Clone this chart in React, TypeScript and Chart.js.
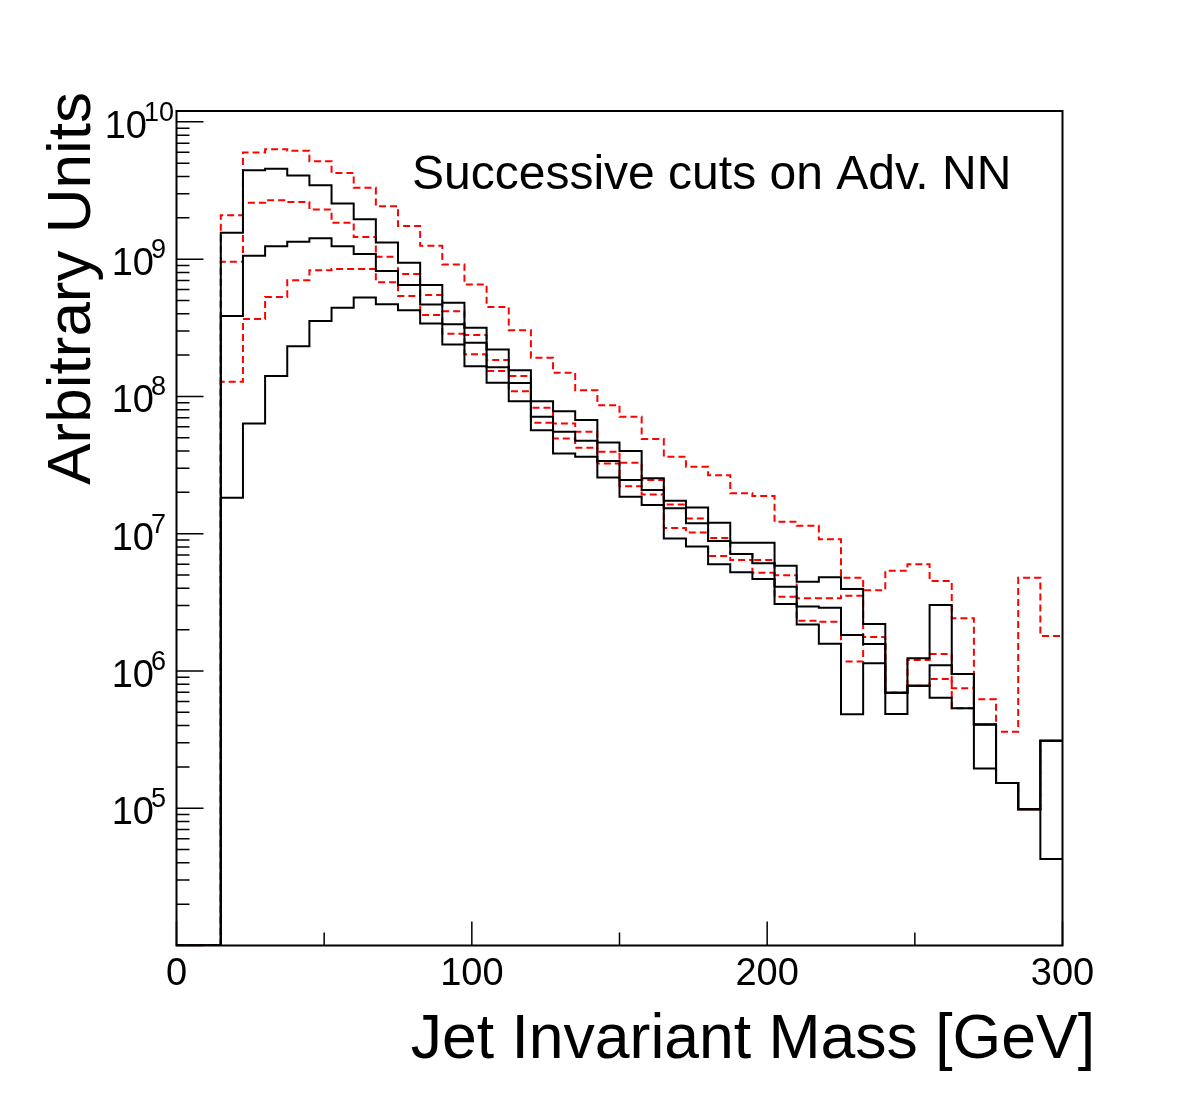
import { useEffect, useRef } from 'react';
import { Chart, registerables } from 'chart.js';

Chart.register(...registerables);

// Jet invariant mass binning [GeV], 40 bins of 7.5 GeV
const binEdges = [
  0, 7.5, 15, 22.5, 30, 37.5, 45, 52.5, 60, 67.5, 75, 82.5, 90, 97.5, 105, 112.5,
  120, 127.5, 135, 142.5, 150, 157.5, 165, 172.5, 180, 187.5, 195, 202.5, 210,
  217.5, 225, 232.5, 240, 247.5, 255, 262.5, 270, 277.5, 285, 292.5, 300,
];

// Solid histograms, loosest to tightest cut
const solidCut1 = [
  0, 0, 1.56e9, 4.45e9, 4.55e9, 4.07e9, 3.46e9, 2.54e9, 1.95e9, 1.32e9, 9.43e8,
  6.47e8, 4.81e8, 3.16e8, 2.2e8, 1.55e8, 9.24e7, 7.81e7, 6.72e7, 4.62e7, 4.0e7,
  2.53e7, 1.74e7, 1.55e7, 1.2e7, 8.58e6, 8.58e6, 5.84e6, 4.46e6, 4.81e6, 3.95e6,
  2.2e6, 6.94e5, 1.24e6, 3.02e6, 9.49e5, 4.08e5, 1.53e5, 9.82e4, 3.1e5,
];
const solidCut2 = [
  0, 0, 3.86e8, 1.06e9, 1.24e9, 1.34e9, 1.42e9, 1.24e9, 1.09e9, 8.18e8, 6.47e8,
  4.68e8, 3.35e8, 2.46e8, 1.63e8, 1.25e8, 7.1e7, 5.52e7, 4.75e7, 3.38e7, 2.46e7,
  2.08e7, 1.53e7, 1.19e7, 8.83e6, 7.1e6, 6.08e6, 4.11e6, 2.95e6, 2.89e6, 1.83e6,
  1.57e6, 6.94e5, 7.8e5, 1.1e6, 9.49e5, 4.08e5, 1.53e5, 9.82e4, 3.1e5,
];
const solidCut3 = [
  0, 0, 1.83e7, 6.36e7, 1.41e8, 2.32e8, 3.54e8, 4.42e8, 5.26e8, 4.7e8, 4.25e8,
  3.4e8, 2.39e8, 1.66e8, 1.26e8, 9.24e7, 5.68e7, 3.84e7, 3.63e7, 2.57e7, 1.86e7,
  1.62e7, 9.24e6, 8.08e6, 5.98e6, 5.23e6, 4.67e6, 3.07e6, 2.18e6, 1.58e6, 4.83e5,
  1.14e6, 4.85e5, 7.8e5, 6.38e5, 5.34e5, 1.95e5, 1.53e5, 9.82e4, 4.27e4,
];

// Dashed histograms, loosest to tightest cut
const dashedCut1 = [
  0, 0, 2.09e9, 5.98e9, 6.33e9, 6.15e9, 5.17e9, 4.25e9, 3.31e9, 2.43e9, 1.74e9,
  1.25e9, 9.15e8, 6.54e8, 4.49e8, 3.04e8, 1.91e8, 1.49e8, 1.11e8, 8.64e7, 7.1e7,
  4.89e7, 3.63e7, 3.07e7, 2.67e7, 1.97e7, 1.88e7, 1.22e7, 1.14e7, 9.09e6, 4.77e6,
  3.88e6, 5.37e6, 5.98e6, 4.52e6, 2.42e6, 6.21e5, 3.61e5, 4.77e6, 1.8e6,
];
const dashedCut2 = [
  0, 0, 9.56e8, 2.57e9, 2.69e9, 2.61e9, 2.3e9, 1.84e9, 1.45e9, 1.04e9, 7.78e8,
  5.47e8, 4.18e8, 2.8e8, 1.84e8, 1.41e8, 8.26e7, 6.36e7, 5.52e7, 3.95e7, 3.28e7,
  2.46e7, 1.63e7, 1.29e7, 9.29e6, 7.1e6, 6.42e6, 4.99e6, 3.38e6, 3.38e6, 3.53e6,
  1.77e6, 6.94e5, 1.2e6, 1.33e6, 7.47e5, 4.08e5, 1.53e5, 9.82e4, 3.1e5,
];
const dashedCut3 = [
  0, 0, 1.28e8, 3.66e8, 5.31e8, 7.03e8, 8.31e8, 8.46e8, 8.46e8, 6.8e8, 5.4e8,
  3.91e8, 2.86e8, 2.03e8, 1.53e8, 1.09e8, 6.42e7, 4.94e7, 4.22e7, 3.25e7, 2.22e7,
  1.93e7, 1.1e7, 1.02e7, 6.87e6, 6.42e6, 5.19e6, 3.47e6, 2.32e6, 2.28e6, 1.17e6,
  1.57e6, 6.94e5, 7.8e5, 8.73e5, 5.34e5, 4.08e5, 1.53e5, 9.82e4, 3.1e5,
];

// Axis ranges and tick labels
const X_MIN = 0;
const X_MAX = 300;
const Y_MIN = 1e4;
const Y_MAX = 1.2e10;
const xMajorTicks = [0, 100, 200, 300];
const xMinorTicks = [50, 150, 250];
const yDecadeLabels = [5, 6, 7, 8, 9, 10];

const xTitle = 'Jet Invariant Mass [GeV]';
const yTitle = 'Arbitrary Units';
const annotation = 'Successive cuts on Adv. NN';

const FONT = '"Liberation Sans", Arial, Helvetica, sans-serif';
const W = 1182;
const H = 1113;

// Turn bin contents into a closed step outline; empty bins sit on the axis floor.
function histPoints(values: number[]) {
  const pts: { x: number; y: number }[] = [];
  values.forEach((v, i) => {
    const y = v > 0 ? v : Y_MIN;
    pts.push({ x: binEdges[i], y });
    pts.push({ x: binEdges[i + 1], y });
  });
  return pts;
}

const rootFrame = {
  id: 'rootFrame',
  afterDatasetsDraw(chart: any) {
    const { ctx, chartArea: a, scales } = chart;
    const xs = scales.x;
    const ys = scales.y;
    ctx.save();
    ctx.strokeStyle = '#000';
    ctx.fillStyle = '#000';

    // frame
    ctx.lineWidth = 2;
    ctx.strokeRect(a.left, a.top, a.right - a.left, a.bottom - a.top);

    // y ticks, inward
    ctx.lineWidth = 1.5;
    ctx.beginPath();
    for (let e = 4; e <= 10; e++) {
      for (let m = 1; m <= 9; m++) {
        const v = m * Math.pow(10, e);
        if (v < Y_MIN || v > Y_MAX) continue;
        const y = ys.getPixelForValue(v);
        const len = m === 1 ? 27 : 13;
        ctx.moveTo(a.left, y);
        ctx.lineTo(a.left + len, y);
      }
    }
    // x ticks, inward
    xMajorTicks.forEach((t) => {
      const x = xs.getPixelForValue(t);
      ctx.moveTo(x, a.bottom);
      ctx.lineTo(x, a.bottom - 24);
    });
    xMinorTicks.forEach((t) => {
      const x = xs.getPixelForValue(t);
      ctx.moveTo(x, a.bottom);
      ctx.lineTo(x, a.bottom - 13);
    });
    ctx.stroke();

    // x tick labels
    ctx.font = `38px ${FONT}`;
    ctx.textAlign = 'center';
    ctx.textBaseline = 'alphabetic';
    xMajorTicks.forEach((t) => {
      ctx.fillText(String(t), xs.getPixelForValue(t), 985);
    });

    // y tick labels: 10^n
    yDecadeLabels.forEach((n) => {
      const y = ys.getPixelForValue(Math.pow(10, n));
      const exp = String(n);
      ctx.font = `27px ${FONT}`;
      const wExp = ctx.measureText(exp).width;
      ctx.font = `38px ${FONT}`;
      const wBase = ctx.measureText('10').width;
      const right = 166 + (exp.length - 1) * 8;
      const x0 = right - wExp - wBase + 3;
      ctx.textAlign = 'left';
      ctx.fillText('10', x0, y + 16);
      ctx.font = `27px ${FONT}`;
      ctx.fillText(exp, x0 + wBase - 3, y - 1);
    });

    // annotation
    ctx.font = `48px ${FONT}`;
    ctx.textAlign = 'left';
    ctx.fillText(annotation, 412, 189);

    // x title
    ctx.font = `62.5px ${FONT}`;
    ctx.textAlign = 'right';
    ctx.fillText(xTitle, 1095, 1058);

    // y title
    ctx.save();
    ctx.font = `62px ${FONT}`;
    ctx.translate(90, 92);
    ctx.rotate(-Math.PI / 2);
    ctx.textAlign = 'right';
    ctx.fillText(yTitle, 0, 0);
    ctx.restore();

    ctx.restore();
  },
};

export default function App() {
  const canvasRef = useRef<HTMLCanvasElement | null>(null);

  useEffect(() => {
    document.body.style.margin = '0';
    const canvas = canvasRef.current;
    if (!canvas) return;

    const solid = (label: string, values: number[]) => ({
      label,
      data: histPoints(values),
      borderColor: '#000000',
      borderWidth: 2,
      pointRadius: 0,
      fill: false,
      tension: 0,
    });
    const dashed = (label: string, values: number[]) => ({
      label,
      data: histPoints(values),
      borderColor: '#ff0000',
      borderWidth: 2,
      borderDash: [7, 4],
      pointRadius: 0,
      fill: false,
      tension: 0,
    });

    // earlier datasets are painted last, so the solid outlines sit on top
    const chart = new Chart(canvas, {
      type: 'line',
      data: {
        datasets: [
          solid('solid cut 1', solidCut1),
          solid('solid cut 2', solidCut2),
          solid('solid cut 3', solidCut3),
          dashed('dashed cut 1', dashedCut1),
          dashed('dashed cut 2', dashedCut2),
          dashed('dashed cut 3', dashedCut3),
        ],
      },
      options: {
        responsive: false,
        animation: false,
        devicePixelRatio: 1,
        layout: { padding: { left: 0, top: 111, right: W - 1062.5, bottom: 0 } },
        plugins: { legend: { display: false }, tooltip: { enabled: false } },
        scales: {
          x: {
            type: 'linear',
            min: X_MIN,
            max: X_MAX,
            grid: { display: false },
            border: { display: false },
            ticks: { display: false },
            afterFit: (s: any) => {
              s.height = H - 945.5;
            },
          },
          y: {
            type: 'logarithmic',
            min: Y_MIN,
            max: Y_MAX,
            grid: { display: false },
            border: { display: false },
            ticks: { display: false },
            afterFit: (s: any) => {
              s.width = 176.5;
            },
          },
        },
      },
      plugins: [rootFrame],
    });

    return () => chart.destroy();
  }, []);

  return (
    <div style={{ position: 'absolute', left: 0, top: 0, width: W, height: H, background: '#fff' }}>
      <canvas ref={canvasRef} width={W} height={H} style={{ display: 'block' }} />
    </div>
  );
}
